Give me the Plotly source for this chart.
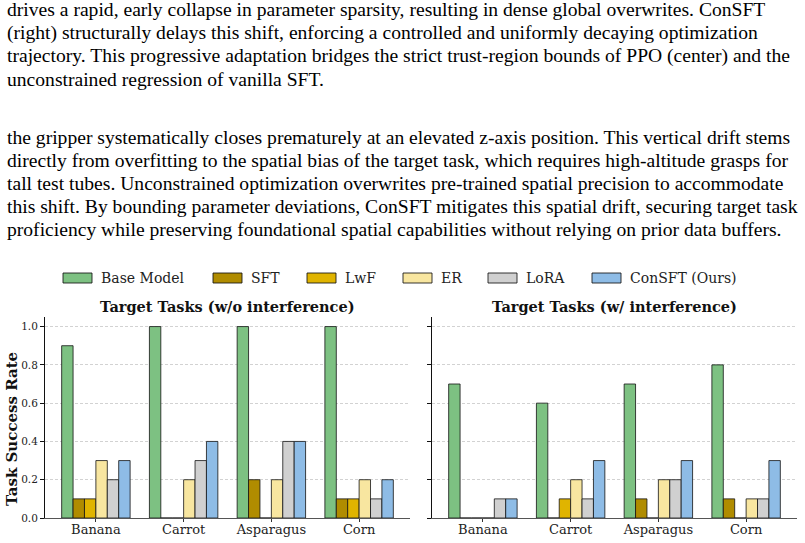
import plotly.graph_objects as go

W, H = 805, 543

categories = ["Banana", "Carrot", "Asparagus", "Corn"]
methods = ["Base Model", "SFT", "LwF", "ER", "LoRA", "ConSFT (Ours)"]
colors = ["#7dc182", "#b08c00", "#e0b400", "#f8e6a0", "#d0d0d0", "#8ebce6"]

# Target Tasks (w/o interference)
wo_base = [0.9, 1.0, 1.0, 1.0]
wo_sft = [0.1, 0.0, 0.2, 0.1]
wo_lwf = [0.1, 0.0, 0.0, 0.1]
wo_er = [0.3, 0.2, 0.2, 0.2]
wo_lora = [0.2, 0.3, 0.4, 0.1]
wo_consft = [0.3, 0.4, 0.4, 0.2]

# Target Tasks (w/ interference)
w_base = [0.7, 0.6, 0.7, 0.8]
w_sft = [0.0, 0.0, 0.1, 0.1]
w_lwf = [0.0, 0.1, 0.0, 0.0]
w_er = [0.0, 0.2, 0.2, 0.1]
w_lora = [0.1, 0.1, 0.2, 0.1]
w_consft = [0.1, 0.3, 0.3, 0.3]

ytick_vals = [0.0, 0.2, 0.4, 0.6, 0.8, 1.0]
ytick_text = ["0.0", "0.2", "0.4", "0.6", "0.8", "1.0"]

para1 = [
    "drives a rapid, early collapse in parameter sparsity, resulting in dense global overwrites. ConSFT",
    "(right) structurally delays this shift, enforcing a controlled and uniformly decaying optimization",
    "trajectory. This progressive adaptation bridges the strict trust-region bounds of PPO (center) and the",
    "unconstrained regression of vanilla SFT.",
]
para2 = [
    "the gripper systematically closes prematurely at an elevated z-axis position. This vertical drift stems",
    "directly from overfitting to the spatial bias of the target task, which requires high-altitude grasps for",
    "tall test tubes. Unconstrained optimization overwrites pre-trained spatial precision to accommodate",
    "this shift. By bounding parameter deviations, ConSFT mitigates this spatial drift, securing target task",
    "proficiency while preserving foundational spatial capabilities without relying on prior data buffers.",
]


def px(x):
    return x / W


def py(y):
    return 1 - y / H


SERIF = "DejaVu Serif"
fig = go.Figure()

wo_sets = [wo_base, wo_sft, wo_lwf, wo_er, wo_lora, wo_consft]
w_sets = [w_base, w_sft, w_lwf, w_er, w_lora, w_consft]

for i, (m, c) in enumerate(zip(methods, colors)):
    fig.add_trace(go.Bar(x=categories, y=wo_sets[i], name=m, marker_color=c,
                         marker_line=dict(color="rgba(20,20,20,0.8)", width=1),
                         xaxis="x", yaxis="y", offsetgroup=str(i), showlegend=False))
    fig.add_trace(go.Bar(x=categories, y=w_sets[i], name=m, marker_color=c,
                         marker_line=dict(color="rgba(20,20,20,0.8)", width=1),
                         xaxis="x2", yaxis="y2", offsetgroup=str(i), showlegend=False))

ydom = [py(518), py(317)]
xaxis_common = dict(type="category", range=[-0.58, 3.58], showline=True, linecolor="#555",
                    linewidth=1.3, ticks="outside", ticklen=3, tickcolor="#333",
                    tickfont=dict(family=SERIF, size=13, color="#222"), showgrid=False,
                    zeroline=False, fixedrange=True, automargin=False, ticklabelstandoff=-4)
yaxis_common = dict(range=[0, 1.05], showline=True, linecolor="#111", linewidth=1,
                    ticks="outside", ticklen=4, tickcolor="#111", tickvals=ytick_vals,
                    showgrid=True, gridcolor="#d2d2d2", gridwidth=0.8, griddash="3px,2px",
                    zeroline=False, domain=ydom, fixedrange=True, automargin=False)

fig.update_layout(
    width=W, height=H,
    margin=dict(l=0, r=0, t=0, b=0, pad=0),
    paper_bgcolor="white", plot_bgcolor="white",
    barmode="group", bargap=0.22, bargroupgap=0,
    showlegend=False,
    xaxis=dict(domain=[px(45), px(410)], anchor="y", **xaxis_common),
    xaxis2=dict(domain=[px(432), px(797)], anchor="y2", **xaxis_common),
    yaxis=dict(anchor="x", ticktext=ytick_text, tickfont=dict(family=SERIF, size=10.5, color="#222"),
               **yaxis_common),
    yaxis2=dict(anchor="x2", showticklabels=False, **yaxis_common),
)

annotations = []
# paragraphs
for k, line in enumerate(para1):
    annotations.append(dict(x=px(5), y=py(9.5 + k * 23.2), xref="paper", yref="paper",
                            xanchor="left", yanchor="middle", showarrow=False, text=line,
                            font=dict(family="Liberation Serif", size=19.6, color="#000")))
for k, line in enumerate(para2):
    annotations.append(dict(x=px(5), y=py(137 + k * 23.2), xref="paper", yref="paper",
                            xanchor="left", yanchor="middle", showarrow=False, text=line,
                            font=dict(family="Liberation Serif", size=19.6, color="#000")))

# titles
annotations.append(dict(x=px(227.5), y=py(306), xref="paper", yref="paper", showarrow=False,
                        text="<b>Target Tasks (w/o interference)</b>", xanchor="center", yanchor="middle",
                        font=dict(family=SERIF, size=14.5, color="#111")))
annotations.append(dict(x=px(614.5), y=py(306), xref="paper", yref="paper", showarrow=False,
                        text="<b>Target Tasks (w/ interference)</b>", xanchor="center", yanchor="middle",
                        font=dict(family=SERIF, size=14.5, color="#111")))
annotations.append(dict(x=px(12), y=py(429), xref="paper", yref="paper", showarrow=False,
                        text="<b>Task Success Rate</b>", textangle=-90, xanchor="center", yanchor="middle",
                        font=dict(family=SERIF, size=15, color="#111")))

# legend (manual)
legend_x = [63, 213, 307, 403, 488, 592]
shapes = []
for lx, m, c in zip(legend_x, methods, colors):
    shapes.append(dict(type="rect", xref="paper", yref="paper", x0=px(lx), x1=px(lx + 29),
                       y0=py(283), y1=py(273), fillcolor=c,
                       line=dict(color="rgba(20,20,20,0.85)", width=1)))
    annotations.append(dict(x=px(lx + 36), y=py(277.5), xref="paper", yref="paper", showarrow=False,
                            text=m, xanchor="left", yanchor="middle",
                            font=dict(family=SERIF, size=14, color="#222")))

fig.update_layout(annotations=annotations, shapes=shapes)
fig.write_html("out.html")
